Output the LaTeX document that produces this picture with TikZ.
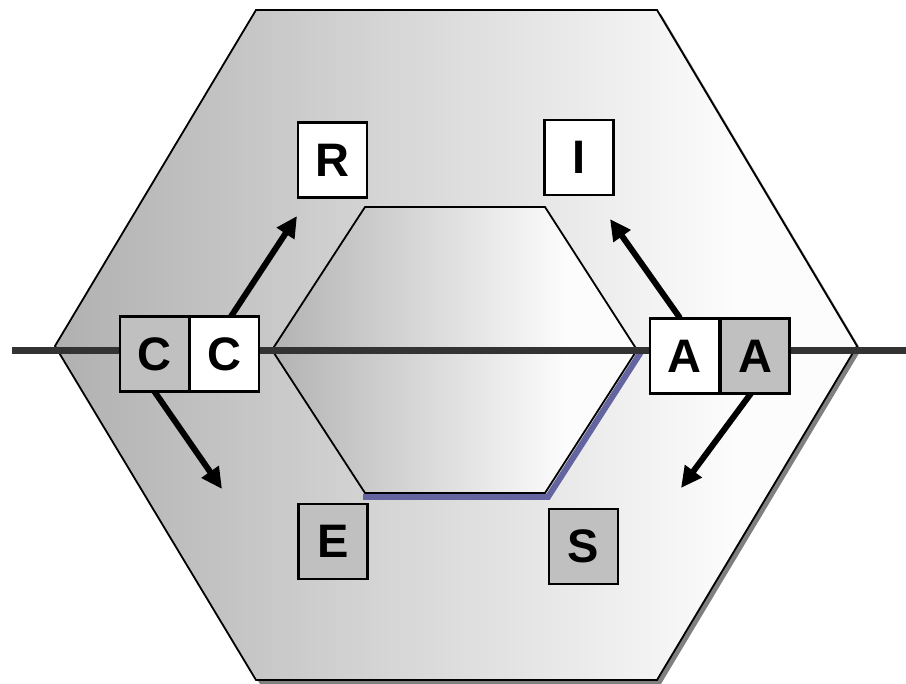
\documentclass[tikz,border=0pt]{standalone}
\usepackage{fontspec}
\setmainfont{Liberation Sans}
\usetikzlibrary{arrows.meta}
\definecolor{boxgrey}{HTML}{C0C0C0}
\definecolor{axisgrey}{HTML}{333333}
\definecolor{rimblue}{HTML}{6464A0}
\definecolor{shadowgrey}{HTML}{808080}
\tikzset{
  letterbox/.style={draw=black, line width=2.2pt, minimum width=69pt, minimum height=75pt,
    inner sep=0pt, font=\fontsize{47}{50}\selectfont\bfseries},
  whitebox/.style={letterbox, fill=white},
  greybox/.style={letterbox, fill=boxgrey},
  bigarrow/.style={line width=6pt, -{Triangle[length=21pt,width=20pt]}},
  hexedge/.style={draw=black, line width=1.8pt, line join=miter},
}
\begin{document}
\begin{tikzpicture}[x=1pt,y=-1pt]
\useasboundingbox (0,0) rectangle (906,684);
% outer hexagon: drop shadow, then a left-to-right grey ramp
\fill[shadowgrey] (260,14) -- (661,14) -- (861,350) -- (661,684) -- (260,684) -- (59,350) -- cycle;
\begin{scope}
  \clip (256,10) -- (657,10) -- (857,346) -- (657,680) -- (256,680) -- (55,346) -- cycle;
  \foreach \x in {55,59,...,857} {
    \pgfmathtruncatemacro{\g}{min(252,177+(\x+2-55)*0.111)}
    \fill[fill={rgb,255:red,\g;green,\g;blue,\g}] (\x,0) rectangle (\x+4.6,684);
  }
\end{scope}
\draw[hexedge] (256,10) -- (657,10) -- (857,346) -- (657,680) -- (256,680) -- (55,346) -- cycle;
% inner hexagon: blue rim along the lower right, then its own ramp
\draw[rimblue, line width=6pt] (641,352) -- (548,497) -- (363,497);
\begin{scope}
  \clip (365,207) -- (545,207) -- (637,350) -- (545,493) -- (365,493) -- (272,350) -- cycle;
  \foreach \x in {272,276,...,637} {
    \pgfmathtruncatemacro{\g}{min(252,179+(\x+2-272)*0.25)}
    \fill[fill={rgb,255:red,\g;green,\g;blue,\g}] (\x,200) rectangle (\x+4.6,500);
  }
\end{scope}
\draw[hexedge] (365,207) -- (545,207) -- (637,350) -- (545,493) -- (365,493) -- (272,350) -- cycle;
% axis line
\coordinate (axl) at (12,351);
\coordinate (axr) at (906,351);
\draw[axisgrey, line width=7pt] (axl) -- (axr);
% arrows
\coordinate (t1) at (230,318);  \coordinate (h1) at (297,216);
\coordinate (t2) at (152,388);  \coordinate (h2) at (222,489);
\coordinate (t3) at (680,318);  \coordinate (h3) at (610,219);
\coordinate (t4) at (752,392);  \coordinate (h4) at (681,488);
\draw[bigarrow] (t1) -- (h1);
\draw[bigarrow] (t2) -- (h2);
\draw[bigarrow] (t3) -- (h3);
\draw[bigarrow] (t4) -- (h4);
% letter boxes
\node[greybox]  (cg) at (154.5,354) {C};
\node[whitebox] (cw) at (224.5,354) {C};
\node[whitebox] (aw) at (684.5,356) {A};
\node[greybox]  (ag) at (755,356) {A};
\node[whitebox] (r)  at (332.5,160) {R};
\node[whitebox] (i)  at (579,157.5) {I};
\node[greybox]  (e)  at (333,541.5) {E};
\node[greybox]  (s)  at (583.5,546.5) {S};
\end{tikzpicture}
\end{document}
